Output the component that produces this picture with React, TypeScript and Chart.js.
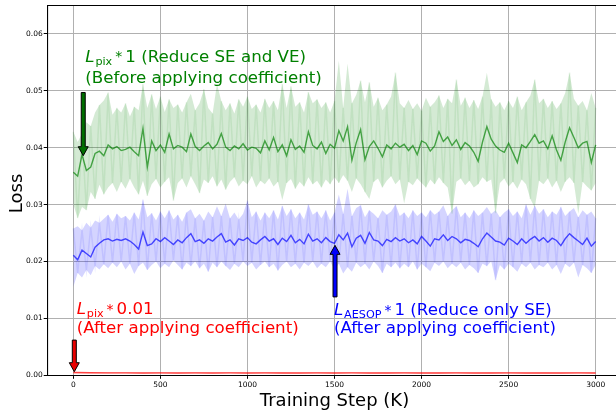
import React, { useEffect, useRef } from "react";
import { Chart, registerables } from "chart.js";

Chart.register(...registerables);

// ---- data ----
const steps = [
  0, 25, 50, 75, 100, 125, 150, 175, 200, 225, 250, 275, 300, 325, 350, 375, 400, 425, 450, 475,
  500, 525, 550, 575, 600, 625, 650, 675, 700, 725, 750, 775, 800, 825, 850, 875, 900, 925, 950, 975,
  1000, 1025, 1050, 1075, 1100, 1125, 1150, 1175, 1200, 1225, 1250, 1275, 1300, 1325, 1350, 1375, 1400, 1425, 1450, 1475,
  1500, 1525, 1550, 1575, 1600, 1625, 1650, 1675, 1700, 1725, 1750, 1775, 1800, 1825, 1850, 1875, 1900, 1925, 1950, 1975,
  2000, 2025, 2050, 2075, 2100, 2125, 2150, 2175, 2200, 2225, 2250, 2275, 2300, 2325, 2350, 2375, 2400, 2425, 2450, 2475,
  2500, 2525, 2550, 2575, 2600, 2625, 2650, 2675, 2700, 2725, 2750, 2775, 2800, 2825, 2850, 2875, 2900, 2925, 2950, 2975,
  3000,
];

const pixSmooth = [
  0.0357, 0.0350, 0.0388, 0.0360, 0.0366, 0.0390, 0.0394, 0.0386, 0.0405, 0.0398, 0.0402, 0.0395, 0.0397, 0.0401, 0.0393, 0.0386, 0.0434, 0.0366, 0.0412, 0.0395,
  0.0405, 0.0392, 0.0424, 0.0398, 0.0404, 0.0401, 0.0393, 0.0424, 0.0402, 0.0395, 0.0403, 0.0409, 0.0398, 0.0406, 0.0425, 0.0401, 0.0395, 0.0403, 0.0398, 0.0407,
  0.0396, 0.0401, 0.0399, 0.0391, 0.0412, 0.0396, 0.0418, 0.0393, 0.0405, 0.0386, 0.0414, 0.0397, 0.0403, 0.0392, 0.0428, 0.0404, 0.0398, 0.0410, 0.0390, 0.0406,
  0.0399, 0.0430, 0.0412, 0.0437, 0.0378, 0.0409, 0.0432, 0.0379, 0.0402, 0.0412, 0.0399, 0.0384, 0.0405, 0.0398, 0.0408, 0.0401, 0.0406, 0.0395, 0.0404, 0.0388,
  0.0412, 0.0408, 0.0394, 0.0403, 0.0428, 0.0411, 0.0419, 0.0404, 0.0414, 0.0397, 0.0409, 0.0403, 0.0392, 0.0376, 0.0410, 0.0437, 0.0415, 0.0403, 0.0396, 0.0392,
  0.0408, 0.0391, 0.0374, 0.0405, 0.0400, 0.0411, 0.0423, 0.0408, 0.0412, 0.0398, 0.0421, 0.0396, 0.0378, 0.0410, 0.0435, 0.0418, 0.0400, 0.0408, 0.0411, 0.0374,
  0.0405,
];
const pixRawHigh = [
  0.0428, 0.0410, 0.0425, 0.0445, 0.0438, 0.0462, 0.0475, 0.0483, 0.0497, 0.0458, 0.0470, 0.0462, 0.0478, 0.0455, 0.0472, 0.0466, 0.0512, 0.0470, 0.0494, 0.0468,
  0.0490, 0.0463, 0.0485, 0.0470, 0.0476, 0.0462, 0.0480, 0.0495, 0.0466, 0.0478, 0.0503, 0.0470, 0.0460, 0.0512, 0.0482, 0.0466, 0.0478, 0.0460, 0.0485, 0.0472,
  0.0490, 0.0468, 0.0476, 0.0462, 0.0486, 0.0470, 0.0482, 0.0466, 0.0512, 0.0470, 0.0508, 0.0472, 0.0480, 0.0462, 0.0498, 0.0478, 0.0485, 0.0470, 0.0480, 0.0462,
  0.0482, 0.0553, 0.0470, 0.0548, 0.0478, 0.0493, 0.0518, 0.0480, 0.0515, 0.0472, 0.0488, 0.0466, 0.0476, 0.0490, 0.0532, 0.0478, 0.0470, 0.0484, 0.0468, 0.0478,
  0.0465, 0.0488, 0.0472, 0.0480, 0.0492, 0.0470, 0.0486, 0.0478, 0.0520, 0.0474, 0.0488, 0.0470, 0.0484, 0.0468, 0.0490, 0.0532, 0.0485, 0.0472, 0.0480, 0.0466,
  0.0482, 0.0470, 0.0490, 0.0466, 0.0480, 0.0492, 0.0520, 0.0478, 0.0486, 0.0470, 0.0482, 0.0468, 0.0478, 0.0496, 0.0532, 0.0486, 0.0474, 0.0482, 0.0466, 0.0496,
  0.0470,
];
const pixRawLow = [
  0.0300, 0.0276, 0.0296, 0.0290, 0.0322, 0.0310, 0.0335, 0.0318, 0.0330, 0.0338, 0.0322, 0.0340, 0.0328, 0.0345, 0.0330, 0.0318, 0.0342, 0.0315, 0.0336, 0.0345,
  0.0330, 0.0340, 0.0348, 0.0307, 0.0338, 0.0346, 0.0330, 0.0350, 0.0336, 0.0320, 0.0344, 0.0338, 0.0350, 0.0332, 0.0344, 0.0326, 0.0340, 0.0348, 0.0332, 0.0342,
  0.0336, 0.0350, 0.0330, 0.0342, 0.0336, 0.0346, 0.0332, 0.0340, 0.0308, 0.0338, 0.0345, 0.0328, 0.0340, 0.0332, 0.0348, 0.0336, 0.0342, 0.0330, 0.0344, 0.0336,
  0.0348, 0.0338, 0.0352, 0.0342, 0.0322, 0.0346, 0.0336, 0.0322, 0.0310, 0.0340, 0.0346, 0.0330, 0.0342, 0.0350, 0.0336, 0.0344, 0.0302, 0.0340, 0.0334, 0.0346,
  0.0338, 0.0330, 0.0344, 0.0336, 0.0348, 0.0338, 0.0330, 0.0284, 0.0340, 0.0346, 0.0334, 0.0342, 0.0330, 0.0336, 0.0348, 0.0340, 0.0344, 0.0285, 0.0338, 0.0346,
  0.0332, 0.0340, 0.0328, 0.0344, 0.0336, 0.0310, 0.0295, 0.0342, 0.0336, 0.0346, 0.0330, 0.0342, 0.0322, 0.0340, 0.0348, 0.0338, 0.0284, 0.0340, 0.0332, 0.0325,
  0.0338,
];

const aesopSmooth = [
  0.0211, 0.0203, 0.0220, 0.0214, 0.0208, 0.0225, 0.0232, 0.0238, 0.0240, 0.0236, 0.0239, 0.0237, 0.0240, 0.0236, 0.0230, 0.0222, 0.0252, 0.0228, 0.0231, 0.0240,
  0.0235, 0.0242, 0.0236, 0.0230, 0.0238, 0.0233, 0.0242, 0.0249, 0.0235, 0.0238, 0.0232, 0.0240, 0.0236, 0.0243, 0.0249, 0.0234, 0.0238, 0.0229, 0.0240, 0.0237,
  0.0242, 0.0234, 0.0231, 0.0238, 0.0244, 0.0236, 0.0240, 0.0230, 0.0241, 0.0235, 0.0246, 0.0233, 0.0239, 0.0231, 0.0248, 0.0236, 0.0240, 0.0233, 0.0242, 0.0235,
  0.0232, 0.0247, 0.0238, 0.0250, 0.0226, 0.0241, 0.0246, 0.0232, 0.0251, 0.0238, 0.0236, 0.0228, 0.0239, 0.0235, 0.0242, 0.0236, 0.0240, 0.0233, 0.0238, 0.0231,
  0.0244, 0.0236, 0.0227, 0.0240, 0.0238, 0.0247, 0.0237, 0.0244, 0.0240, 0.0233, 0.0239, 0.0237, 0.0232, 0.0226, 0.0240, 0.0250, 0.0243, 0.0236, 0.0234, 0.0229,
  0.0241, 0.0236, 0.0230, 0.0240, 0.0232, 0.0239, 0.0244, 0.0236, 0.0242, 0.0234, 0.0241, 0.0237, 0.0228, 0.0240, 0.0249, 0.0242, 0.0236, 0.0230, 0.0241, 0.0227,
  0.0235,
];
const aesopRawHigh = [
  0.0258, 0.0262, 0.0255, 0.0268, 0.0260, 0.0272, 0.0268, 0.0275, 0.0282, 0.0270, 0.0284, 0.0276, 0.0280, 0.0272, 0.0286, 0.0274, 0.0309, 0.0278, 0.0285, 0.0272,
  0.0288, 0.0276, 0.0290, 0.0274, 0.0282, 0.0270, 0.0286, 0.0292, 0.0276, 0.0284, 0.0272, 0.0288, 0.0278, 0.0297, 0.0280, 0.0302, 0.0276, 0.0286, 0.0274, 0.0284,
  0.0307, 0.0278, 0.0288, 0.0272, 0.0286, 0.0276, 0.0290, 0.0274, 0.0298, 0.0280, 0.0292, 0.0276, 0.0286, 0.0274, 0.0300, 0.0282, 0.0288, 0.0276, 0.0290, 0.0272,
  0.0286, 0.0318, 0.0284, 0.0328, 0.0280, 0.0294, 0.0299, 0.0278, 0.0290, 0.0284, 0.0276, 0.0290, 0.0282, 0.0288, 0.0300, 0.0280, 0.0286, 0.0276, 0.0290, 0.0280,
  0.0286, 0.0278, 0.0290, 0.0282, 0.0288, 0.0299, 0.0280, 0.0290, 0.0297, 0.0278, 0.0286, 0.0276, 0.0290, 0.0280, 0.0286, 0.0296, 0.0284, 0.0290, 0.0278, 0.0286,
  0.0292, 0.0280, 0.0288, 0.0276, 0.0300, 0.0282, 0.0298, 0.0284, 0.0292, 0.0278, 0.0288, 0.0282, 0.0296, 0.0280, 0.0288, 0.0294, 0.0278, 0.0290, 0.0282, 0.0288,
  0.0276,
];
const aesopRawLow = [
  0.0155, 0.0180, 0.0172, 0.0185, 0.0176, 0.0192, 0.0186, 0.0195, 0.0188, 0.0198, 0.0190, 0.0200, 0.0186, 0.0196, 0.0178, 0.0192, 0.0198, 0.0185, 0.0194, 0.0200,
  0.0188, 0.0196, 0.0190, 0.0202, 0.0194, 0.0186, 0.0198, 0.0192, 0.0200, 0.0188, 0.0196, 0.0182, 0.0198, 0.0190, 0.0200, 0.0192, 0.0185, 0.0196, 0.0190, 0.0200,
  0.0192, 0.0198, 0.0186, 0.0194, 0.0200, 0.0190, 0.0196, 0.0184, 0.0194, 0.0200, 0.0190, 0.0196, 0.0186, 0.0198, 0.0192, 0.0200, 0.0188, 0.0196, 0.0190, 0.0200,
  0.0186, 0.0196, 0.0179, 0.0190, 0.0182, 0.0198, 0.0190, 0.0196, 0.0186, 0.0200, 0.0192, 0.0180, 0.0196, 0.0190, 0.0198, 0.0188, 0.0196, 0.0190, 0.0200, 0.0186,
  0.0196, 0.0190, 0.0183, 0.0198, 0.0192, 0.0200, 0.0188, 0.0196, 0.0190, 0.0198, 0.0186, 0.0194, 0.0188, 0.0180, 0.0196, 0.0192, 0.0200, 0.0167, 0.0194, 0.0186,
  0.0196, 0.0190, 0.0182, 0.0196, 0.0190, 0.0198, 0.0186, 0.0194, 0.0190, 0.0198, 0.0186, 0.0194, 0.0178, 0.0196, 0.0190, 0.0198, 0.0172, 0.0194, 0.0188, 0.0180,
  0.0194,
];

const redSteps = [
  0, 100, 200, 300, 400, 500, 600, 700, 800, 900, 1000, 1100, 1200, 1300, 1400, 1500,
  1600, 1700, 1800, 1900, 2000, 2100, 2200, 2300, 2400, 2500, 2600, 2700, 2800, 2900, 3000,
];
const scaledSmooth = [
  0.00048, 0.00044, 0.00042, 0.00043, 0.00041, 0.00042, 0.00040, 0.00042, 0.00041, 0.00043, 0.00040, 0.00042, 0.00041, 0.00040, 0.00042, 0.00041,
  0.00043, 0.00040, 0.00041, 0.00042, 0.00040, 0.00041, 0.00042, 0.00040, 0.00041, 0.00042, 0.00040, 0.00041, 0.00040, 0.00042, 0.00041,
];
const scaledRawHigh = [
  0.00062, 0.00058, 0.00056, 0.00060, 0.00055, 0.00057, 0.00054, 0.00058, 0.00055, 0.00059, 0.00054, 0.00057, 0.00056, 0.00054, 0.00058, 0.00055,
  0.00059, 0.00054, 0.00056, 0.00057, 0.00054, 0.00056, 0.00058, 0.00054, 0.00056, 0.00057, 0.00054, 0.00056, 0.00055, 0.00057, 0.00055,
];
const scaledRawLow = [
  0.00030, 0.00030, 0.00029, 0.00030, 0.00028, 0.00029, 0.00028, 0.00029, 0.00028, 0.00030, 0.00028, 0.00029, 0.00028, 0.00028, 0.00029, 0.00028,
  0.00030, 0.00028, 0.00028, 0.00029, 0.00028, 0.00028, 0.00029, 0.00028, 0.00028, 0.00029, 0.00028, 0.00028, 0.00028, 0.00029, 0.00028,
];

const xTickValues = [0, 500, 1000, 1500, 2000, 2500, 3000];
const yTickValues = [0, 0.01, 0.02, 0.03, 0.04, 0.05, 0.06];

// ---- annotations (data coordinates) ----
const annotations = [
  {
    color: "#008000",
    arrowFill: "#006e00",
    x: 69,
    base1: 0.05514,
    base2: 0.05146,
    sub: "pix",
    rest: "1 (Reduce SE and VE)",
    line2: "(Before applying coefficient)",
    arrowX: 57,
    arrowFrom: 0.0497,
    arrowTo: 0.0386,
  },
  {
    color: "#0000ff",
    arrowFill: "#0000ff",
    x: 1497,
    base1: 0.01057,
    base2: 0.00736,
    sub: "AESOP",
    rest: "1 (Reduce only SE)",
    line2: "(After applying coefficient)",
    arrowX: 1503,
    arrowFrom: 0.01378,
    arrowTo: 0.02284,
  },
  {
    color: "#ff0000",
    arrowFill: "#e80000",
    x: 19.5,
    base1: 0.01074,
    base2: 0.00736,
    sub: "pix",
    rest: "0.01",
    line2: "(After applying coefficient)",
    arrowX: 5.7,
    arrowFrom: 0.00619,
    arrowTo: 0.00063,
  },
];

const FONT = '"DejaVu Sans", "Liberation Sans", sans-serif';
const W = 630;
const H = 412;

function pts(xs: number[], ys: number[]) {
  return xs.map((x, i) => ({ x, y: ys[i] }));
}
// raw trace: alternate between the read-off high and low envelope values
function zigzag(xs: number[], hi: number[], lo: number[]) {
  return xs.map((x, i) => ({ x, y: i % 2 === 0 ? hi[i] : lo[i] }));
}

function drawArrow(ctx: CanvasRenderingContext2D, x: number, y0: number, y1: number, fill: string) {
  const dir = y1 > y0 ? 1 : -1;
  const sw = 2;
  const hw = 5;
  const hl = 9;
  const yb = y1 - dir * hl;
  ctx.beginPath();
  ctx.moveTo(x - sw, y0);
  ctx.lineTo(x + sw, y0);
  ctx.lineTo(x + sw, yb);
  ctx.lineTo(x + hw, yb);
  ctx.lineTo(x, y1);
  ctx.lineTo(x - hw, yb);
  ctx.lineTo(x - sw, yb);
  ctx.closePath();
  ctx.fillStyle = fill;
  ctx.fill();
  ctx.strokeStyle = "#000";
  ctx.lineWidth = 1;
  ctx.stroke();
}

const overlayPlugin = {
  id: "overlay",
  afterDraw(chart: any) {
    const { ctx, chartArea: a, scales } = chart;
    const xs = scales.x;
    const ys = scales.y;
    ctx.save();
    // top spine
    ctx.strokeStyle = "#000";
    ctx.lineWidth = 1.1;
    ctx.beginPath();
    ctx.moveTo(a.left, a.top);
    ctx.lineTo(a.right, a.top);
    ctx.stroke();

    // axis titles
    ctx.fillStyle = "#000";
    ctx.font = `18px ${FONT}`;
    ctx.textAlign = "center";
    ctx.textBaseline = "alphabetic";
    ctx.fillText("Training Step (K)", (a.left + a.right) / 2, 406);
    ctx.save();
    ctx.translate(21.5, (a.top + a.bottom) / 2 + 3);
    ctx.rotate(-Math.PI / 2);
    ctx.fillText("Loss", 0, 0);
    ctx.restore();

    // arrows and texts
    ctx.textAlign = "left";
    for (const an of annotations) {
      drawArrow(ctx, xs.getPixelForValue(an.arrowX), ys.getPixelForValue(an.arrowFrom), ys.getPixelForValue(an.arrowTo), an.arrowFill);
      const x0 = xs.getPixelForValue(an.x);
      const b1 = ys.getPixelForValue(an.base1);
      const b2 = ys.getPixelForValue(an.base2);
      ctx.fillStyle = an.color;
      ctx.font = `italic 16.67px ${FONT}`;
      ctx.fillText("L", x0, b1);
      let x = x0 + ctx.measureText("L").width + 0.8;
      ctx.font = `11.2px ${FONT}`;
      ctx.fillText(an.sub, x, b1 + 3.2);
      x += ctx.measureText(an.sub).width + 3;
      ctx.font = `14px ${FONT}`;
      ctx.fillText("*", x, b1 - 0.5);
      x += ctx.measureText("*").width + 3;
      ctx.font = `16.67px ${FONT}`;
      ctx.fillText(an.rest, x, b1);
      ctx.fillText(an.line2, x0, b2);
    }
    ctx.restore();
  },
};

export default function App() {
  const ref = useRef<HTMLCanvasElement | null>(null);

  useEffect(() => {
    document.body.style.overflow = "hidden";
    const canvas = ref.current!;
    const band = (data: any, fillColor: string) => ({
      data, borderWidth: 0, borderColor: "rgba(0,0,0,0)", backgroundColor: fillColor, fill: "+1", pointRadius: 0, order: 3,
    });
    const edge = (data: any) => ({ data, borderWidth: 0, borderColor: "rgba(0,0,0,0)", fill: false, pointRadius: 0, order: 3 });
    const chart = new Chart(canvas, {
      type: "line",
      data: {
        datasets: [
          band(pts(steps, pixRawHigh), "rgba(0,128,0,0.17)"),
          edge(pts(steps, pixRawLow)),
          band(pts(steps, aesopRawHigh), "rgba(0,0,255,0.17)"),
          edge(pts(steps, aesopRawLow)),
          band(pts(redSteps, scaledRawHigh), "rgba(255,0,0,0.2)"),
          edge(pts(redSteps, scaledRawLow)),
          { data: zigzag(steps, pixRawHigh, pixRawLow), borderWidth: 1.6, borderColor: "rgba(0,128,0,0.09)", fill: false, pointRadius: 0, tension: 0, order: 2 },
          { data: zigzag(steps, aesopRawHigh, aesopRawLow), borderWidth: 1.6, borderColor: "rgba(0,0,255,0.09)", fill: false, pointRadius: 0, tension: 0, order: 2 },
          { data: pts(steps, pixSmooth), borderWidth: 1.4, borderColor: "rgba(0,128,0,0.68)", fill: false, pointRadius: 0, tension: 0, order: 1 },
          { data: pts(steps, aesopSmooth), borderWidth: 1.4, borderColor: "rgba(0,0,255,0.68)", fill: false, pointRadius: 0, tension: 0, order: 1 },
          { data: pts(redSteps, scaledSmooth), borderWidth: 1.4, borderColor: "rgba(255,0,0,0.68)", fill: false, pointRadius: 0, tension: 0, order: 1 },
        ],
      },
      options: {
        animation: false,
        responsive: false,
        devicePixelRatio: 1,
        layout: { padding: { left: 0, top: 4.5, right: 8.2, bottom: 0 } },
        plugins: { legend: { display: false }, tooltip: { enabled: false } },
        scales: {
          x: {
            type: "linear",
            min: -150,
            max: 3150,
            afterFit: (s: any) => {
              s.height = 36.7;
            },
            afterBuildTicks: (s: any) => {
              s.ticks = xTickValues.map((v) => ({ value: v }));
            },
            grid: { color: "#b0b0b0", lineWidth: 1, tickColor: "#000", tickLength: 3.5, tickWidth: 1 },
            border: { display: true, color: "#000", width: 1.1 },
            ticks: {
              font: { family: FONT, size: 7.5 },
              color: "#000",
              padding: 2,
              maxRotation: 0,
              autoSkip: false,
              callback: (v: any) => String(v),
            },
          },
          y: {
            type: "linear",
            min: 0,
            max: 0.065,
            afterFit: (s: any) => {
              s.width = 47.2;
            },
            afterBuildTicks: (s: any) => {
              s.ticks = yTickValues.map((v) => ({ value: v }));
            },
            grid: { color: "#b0b0b0", lineWidth: 1, tickColor: "#000", tickLength: 3.5, tickWidth: 1 },
            border: { display: true, color: "#000", width: 1.1 },
            ticks: {
              font: { family: FONT, size: 7.5 },
              color: "#000",
              padding: 1,
              autoSkip: false,
              callback: (v: any) => Number(v).toFixed(2),
            },
          },
        },
      },
      plugins: [overlayPlugin],
    });
    return () => chart.destroy();
  }, []);

  return (
    <div style={{ position: "fixed", left: 0, top: 0, width: 616, height: 412, overflow: "hidden", background: "#fff" }}>
      <canvas ref={ref} width={W} height={H} style={{ width: W, height: H, display: "block" }} />
    </div>
  );
}
